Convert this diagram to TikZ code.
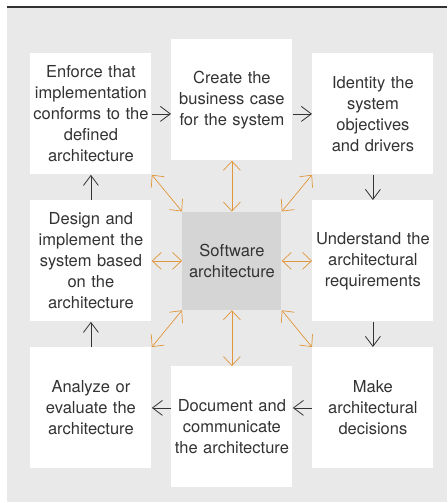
\documentclass[tikz,border=0pt]{standalone}
\usepackage{fontspec}
\setmainfont{TeX Gyre Heros}
\usepackage{xcolor}
\usetikzlibrary{
arrows.meta,
matrix
}
\definecolor{bggray}{HTML}{E9E9E9}
\definecolor{coregray}{HTML}{D5D5D5}
\definecolor{txtgray}{HTML}{333333}
\definecolor{linkorange}{HTML}{E0963A}

\begin{document}
\begin{tikzpicture}[
    x=1pt, y=1pt,
    line width=0.8pt,
    >={Straight Barb[length=10pt,width=15pt]},
    box/.style={anchor=center, fill=white, text=txtgray, align=center, inner sep=0pt,
      text width=121pt, minimum height=121pt,
      font=\fontsize{16.5}{21}\selectfont},
    core/.style={anchor=center, fill=coregray, text=txtgray, align=center, inner sep=0pt,
      minimum width=99pt, minimum height=98pt,
      font=\fontsize{16.5}{21}\selectfont},
    flow/.style={->, draw=txtgray},
    link/.style={<->, draw=linkorange, line width=0.7pt,
      >={Straight Barb[length=9pt,width=17pt]}}
  ]
  \useasboundingbox (0,0) rectangle (447,-503);
  \fill[bggray] (7,-8) rectangle (447,-502);
  \draw[txtgray, line width=1.3pt] (7,-7) -- (447,-7);

  \matrix[
    anchor=north west,
    inner sep=0pt,
    row sep=26pt,
    column sep=20pt] at (30,-39) {
    \node[box] (enforce) {Enforce that\\implementation\\conforms to the\\defined\\architecture};
    & \node[box, yshift=14pt] (business) {Create the\\business case\\for the system};
    & \node[box] (objectives) {Identity the\\system\\objectives\\and drivers}; \\

    \node[box] (design) {Design and\\implement the\\system based\\on the\\architecture};
    & \node[core] (sa) {Software\\architecture};
    & \node[box] (requirements) {Understand the\\architectural\\requirements}; \\

    \node[box] (analyze) {Analyze or\\evaluate the\\architecture};
    & \node[box, yshift=-19pt] (document) {Document and\\communicate\\the architecture};
    & \node[box] (decisions) {Make\\architectural\\decisions}; \\
  };

  % cycle
  \draw[flow] (enforce.east) -- (enforce.east -| business.west);
  \draw[flow] (objectives.west -| business.east) -- (objectives.west);
  \draw[flow] (objectives) -- (requirements);
  \draw[flow] (requirements) -- (decisions);
  \draw[flow] (decisions.west) -- (decisions.west -| document.east);
  \draw[flow] (analyze.east -| document.west) -- (analyze.east);
  \draw[flow] (analyze) -- (design);
  \draw[flow] (design) -- (enforce);

  % links to the architecture
  \draw[link] (sa.north west) -- (enforce.south east);
  \draw[link] (sa.north) -- (business.south);
  \draw[link] (sa.north east) -- (objectives.south west);
  \draw[link] (sa.west) -- (design.east);
  \draw[link] (sa.east) -- (requirements.west);
  \draw[link] (sa.south west) -- (analyze.north east);
  \draw[link] (sa.south) -- (document.north);
  \draw[link] (sa.south east) -- (decisions.north west);
\end{tikzpicture}
\end{document}
